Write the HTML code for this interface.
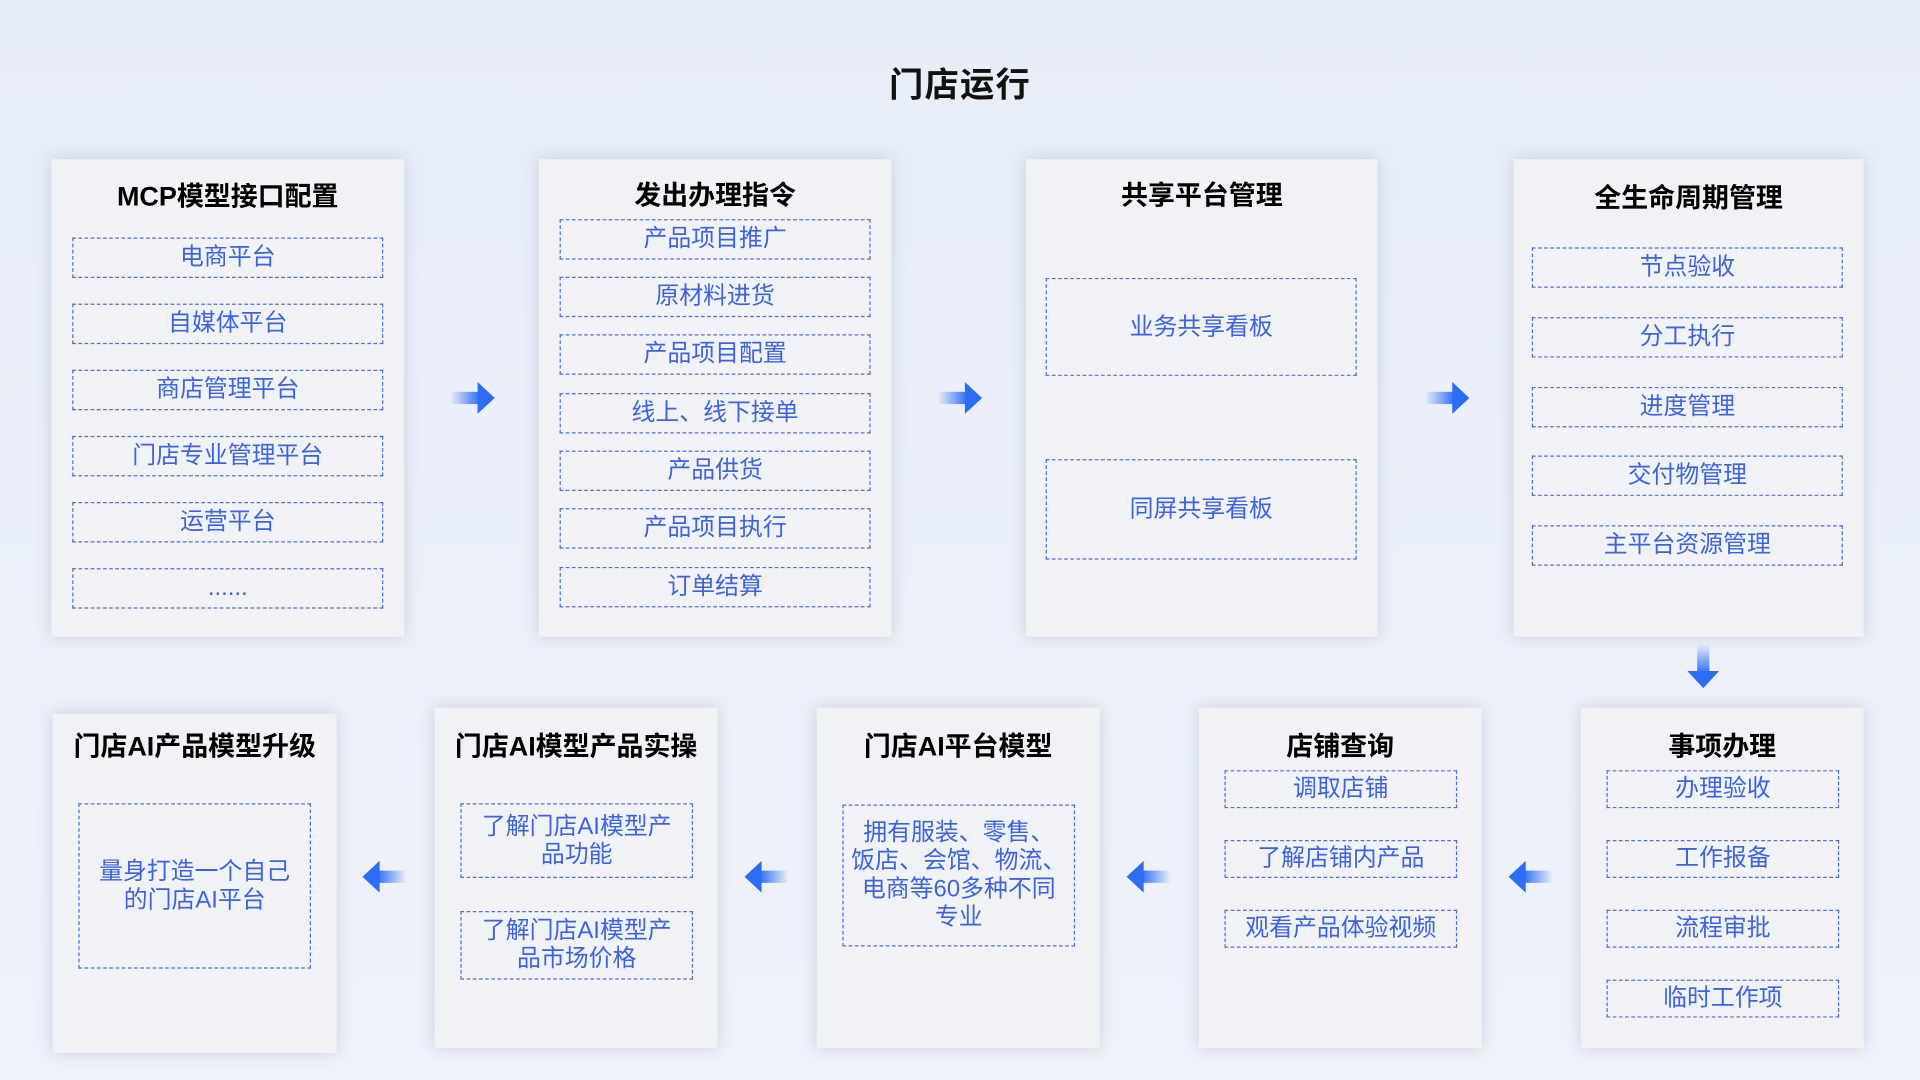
<!DOCTYPE html>
<html><head><meta charset="utf-8"><style>
html,body{margin:0;padding:0;width:1920px;height:1080px;overflow:hidden;background:linear-gradient(180deg,#e7edf8,#eef2fa);}
#w{position:absolute;left:0;top:0;width:1568px;height:882px;transform:scale(1.22449);transform-origin:0 0;font-family:"Liberation Sans","Noto Sans CJK SC",sans-serif;}
.p{position:absolute;background:#f0f2f6;box-shadow:0 0 12px rgba(150,165,195,.45);}
.t{position:absolute;left:0;right:0;text-align:center;font-weight:bold;font-size:22px;color:#000;}
.b{position:absolute;border:1px dashed #4d6fd6;color:#3d63de;font-size:19.5px;text-align:center;display:flex;align-items:center;justify-content:center;line-height:23px;box-sizing:border-box;}
.ar{position:absolute;width:36px;height:26px;}
</style></head><body><div id="w">
<div style="position:absolute;left:0;right:0;top:48px;text-align:center;font-size:28px;font-weight:bold;color:#111;letter-spacing:1px">门店运行</div>
<svg width="0" height="0" style="position:absolute"><defs>
<linearGradient id="gr" x1="0" x2="1"><stop offset="0" stop-color="#2d6df6" stop-opacity="0"/><stop offset="1" stop-color="#2d6df6"/></linearGradient>
<linearGradient id="gl" x1="1" x2="0"><stop offset="0" stop-color="#2d6df6" stop-opacity="0"/><stop offset="1" stop-color="#2d6df6"/></linearGradient>
<linearGradient id="gd" x1="0" y1="0" x2="0" y2="1"><stop offset="0" stop-color="#2d6df6" stop-opacity="0"/><stop offset="1" stop-color="#2d6df6"/></linearGradient>
</defs></svg>

<div class="p" style="left:42px;top:130px;width:288px;height:390px">
<div class="t" style="top:13px">MCP模型接口配置</div>
<div class="b" style="left:17px;top:64px;width:254px;height:33px">电商平台</div>
<div class="b" style="left:17px;top:118px;width:254px;height:33px">自媒体平台</div>
<div class="b" style="left:17px;top:172px;width:254px;height:33px">商店管理平台</div>
<div class="b" style="left:17px;top:226px;width:254px;height:33px">门店专业管理平台</div>
<div class="b" style="left:17px;top:280px;width:254px;height:33px">运营平台</div>
<div class="b" style="left:17px;top:334px;width:254px;height:33px">......</div>
</div>
<div class="p" style="left:440px;top:130px;width:288px;height:390px">
<div class="t" style="top:12px">发出办理指令</div>
<div class="b" style="left:17px;top:49px;width:254px;height:33px">产品项目推广</div>
<div class="b" style="left:17px;top:96px;width:254px;height:33px">原材料进货</div>
<div class="b" style="left:17px;top:143px;width:254px;height:33px">产品项目配置</div>
<div class="b" style="left:17px;top:191px;width:254px;height:33px">线上、线下接单</div>
<div class="b" style="left:17px;top:238px;width:254px;height:33px">产品供货</div>
<div class="b" style="left:17px;top:285px;width:254px;height:33px">产品项目执行</div>
<div class="b" style="left:17px;top:333px;width:254px;height:33px">订单结算</div>
</div>
<div class="p" style="left:838px;top:130px;width:287px;height:390px">
<div class="t" style="top:12px">共享平台管理</div>
<div class="b" style="left:16px;top:97px;width:254px;height:80px">业务共享看板</div>
<div class="b" style="left:16px;top:245px;width:254px;height:82px">同屏共享看板</div>
</div>
<div class="p" style="left:1236px;top:130px;width:286px;height:390px">
<div class="t" style="top:14px">全生命周期管理</div>
<div class="b" style="left:15px;top:72px;width:254px;height:33px">节点验收</div>
<div class="b" style="left:15px;top:129px;width:254px;height:33px">分工执行</div>
<div class="b" style="left:15px;top:186px;width:254px;height:33px">进度管理</div>
<div class="b" style="left:15px;top:242px;width:254px;height:33px">交付物管理</div>
<div class="b" style="left:15px;top:299px;width:254px;height:33px">主平台资源管理</div>
</div>

<div class="p" style="left:43px;top:583px;width:232px;height:277px">
<div class="t" style="top:9px">门店AI产品模型升级</div>
<div class="b" style="left:21px;top:73px;width:190px;height:135px">量身打造一个自己<br>的门店AI平台</div>
</div>
<div class="p" style="left:355px;top:578px;width:231px;height:278px">
<div class="t" style="top:14px">门店AI模型产品实操</div>
<div class="b" style="left:21px;top:78px;width:190px;height:61px">了解门店AI模型产<br>品功能</div>
<div class="b" style="left:21px;top:166px;width:190px;height:56px">了解门店AI模型产<br>品市场价格</div>
</div>
<div class="p" style="left:667px;top:578px;width:231px;height:278px">
<div class="t" style="top:14px">门店AI平台模型</div>
<div class="b" style="left:21px;top:79px;width:190px;height:116px">拥有服装、零售、<br>饭店、会馆、物流、<br>电商等60多种不同<br>专业</div>
</div>
<div class="p" style="left:979px;top:578px;width:231px;height:278px">
<div class="t" style="top:14px">店铺查询</div>
<div class="b" style="left:21px;top:51px;width:190px;height:31px">调取店铺</div>
<div class="b" style="left:21px;top:108px;width:190px;height:31px">了解店铺内产品</div>
<div class="b" style="left:21px;top:165px;width:190px;height:31px">观看产品体验视频</div>
</div>
<div class="p" style="left:1291px;top:578px;width:231px;height:278px">
<div class="t" style="top:14px">事项办理</div>
<div class="b" style="left:21px;top:51px;width:190px;height:31px">办理验收</div>
<div class="b" style="left:21px;top:108px;width:190px;height:31px">工作报备</div>
<div class="b" style="left:21px;top:165px;width:190px;height:31px">流程审批</div>
<div class="b" style="left:21px;top:222px;width:190px;height:31px">临时工作项</div>
</div>

<svg class="ar" style="left:368px;top:312px" viewBox="0 0 36 26"><rect x="0" y="8" width="24" height="10" fill="url(#gr)"/><polygon points="22,0 36,13 22,26" fill="#2d6df6"/></svg>
<svg class="ar" style="left:766px;top:312px" viewBox="0 0 36 26"><rect x="0" y="8" width="24" height="10" fill="url(#gr)"/><polygon points="22,0 36,13 22,26" fill="#2d6df6"/></svg>
<svg class="ar" style="left:1164px;top:312px" viewBox="0 0 36 26"><rect x="0" y="8" width="24" height="10" fill="url(#gr)"/><polygon points="22,0 36,13 22,26" fill="#2d6df6"/></svg>
<svg style="position:absolute;left:1378px;top:526px;width:26px;height:36px" viewBox="0 0 26 36"><rect x="8" y="0" width="10" height="24" fill="url(#gd)"/><polygon points="0,22 26,22 13,36" fill="#2d6df6"/></svg>
<svg class="ar" style="left:296px;top:703px" viewBox="0 0 36 26"><rect x="12" y="8" width="24" height="10" fill="url(#gl)"/><polygon points="14,0 0,13 14,26" fill="#2d6df6"/></svg>
<svg class="ar" style="left:608px;top:703px" viewBox="0 0 36 26"><rect x="12" y="8" width="24" height="10" fill="url(#gl)"/><polygon points="14,0 0,13 14,26" fill="#2d6df6"/></svg>
<svg class="ar" style="left:920px;top:703px" viewBox="0 0 36 26"><rect x="12" y="8" width="24" height="10" fill="url(#gl)"/><polygon points="14,0 0,13 14,26" fill="#2d6df6"/></svg>
<svg class="ar" style="left:1232px;top:703px" viewBox="0 0 36 26"><rect x="12" y="8" width="24" height="10" fill="url(#gl)"/><polygon points="14,0 0,13 14,26" fill="#2d6df6"/></svg>
</div></body></html>
